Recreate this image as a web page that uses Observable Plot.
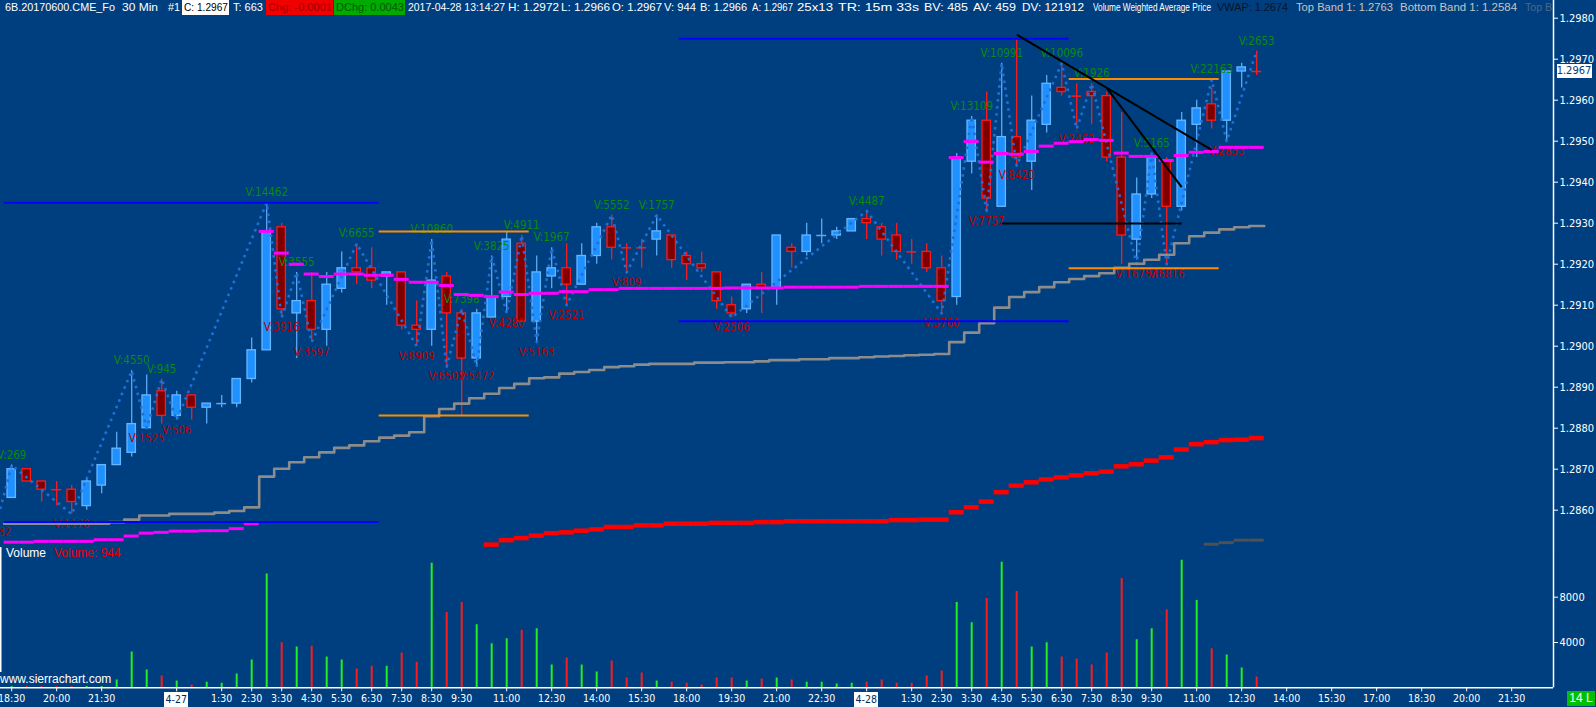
<!DOCTYPE html>
<html><head><meta charset="utf-8">
<script src="https://cdn.jsdelivr.net/npm/d3@7"></script>
<script src="https://cdn.jsdelivr.net/npm/@observablehq/plot@0.6"></script>
<style>
html,body{margin:0;padding:0;background:#003f7f;}
#wrap{position:relative;width:1596px;height:707px;overflow:hidden;background:#003f7f;font-family:"Liberation Sans",Arial,sans-serif;}
.layer{position:absolute;left:0;}
.abs{position:absolute;white-space:nowrap;}
#hdr{position:absolute;left:0;top:0;width:1553px;height:16px;overflow:hidden;}
.seg{position:absolute;top:0;height:15px;line-height:15px;font-size:10.5px;white-space:nowrap;}
.seg span{display:inline-block;transform-origin:0 50%;white-space:nowrap;}
</style></head>
<body><div id="wrap"></div>
<script>
// ---------------- DATA ----------------
const open = [1.2863,1.2870,1.2867,1.2865,1.2865,1.2861,1.2866,1.2871,1.2874,1.2880,
 1.2889,1.2883,1.2888,1.2885,1.2886,1.2886,1.2892,1.2899,1.2929,1.2908,
 1.2911,1.2904,1.2914,1.2919,1.2919,1.2917,1.2918,1.2905,1.2904,1.2917,
 1.2908,1.2897,1.2907,1.2912,1.2925,1.2906,1.2917,1.2919,1.2915,1.2922,
 1.2929,1.2924,1.2924,1.2926,1.2927,1.2922,1.2920,1.2918,1.2910,1.2909,
 1.2915,1.2914,1.2924,1.2923,1.2927,1.2927,1.2928,1.2931,1.2929,1.2927,
 1.2923,1.2923,1.2919,1.2912,1.2945,1.2955,1.2934,1.2951,1.2945,1.2954,
 1.2963,1.2961,1.2962,1.2961,1.2946,1.2926,1.2937,1.2945,1.2934,1.2954,
 1.2959,1.2955,1.2967,1.2967];
const high = [1.2871,1.2870,1.2867,1.2867,1.2866,1.2868,1.2871,1.2879,1.2894,1.2893,
 1.2892,1.2889,1.2888,1.2886,1.2888,1.2892,1.2902,1.2935,1.2930,1.2918,
 1.2918,1.2918,1.2923,1.2925,1.2924,1.2918,1.2918,1.2911,1.2926,1.2918,
 1.2909,1.2909,1.2922,1.2928,1.2927,1.2922,1.2924,1.2925,1.2925,1.2930,
 1.2932,1.2925,1.2926,1.2932,1.2927,1.2923,1.2923,1.2918,1.2912,1.2915,
 1.2918,1.2927,1.2925,1.2930,1.2931,1.2929,1.2931,1.2933,1.2930,1.2930,
 1.2926,1.2925,1.2922,1.2947,1.2956,1.2962,1.2969,1.2975,1.2961,1.2966,
 1.2969,1.2964,1.2964,1.2962,1.2957,1.2941,1.2947,1.2946,1.2957,1.2960,
 1.2963,1.2967,1.2969,1.2972];
const low = [1.2863,1.2867,1.2862,1.2861,1.2859,1.2860,1.2864,1.2871,1.2873,1.2880,
 1.2881,1.2882,1.2882,1.2881,1.2885,1.2885,1.2891,1.2899,1.2907,1.2897,
 1.2901,1.2900,1.2913,1.2915,1.2914,1.2910,1.2904,1.2900,1.2900,1.2895,
 1.2883,1.2895,1.2907,1.2908,1.2906,1.2901,1.2914,1.2910,1.2915,1.2920,
 1.2921,1.2918,1.2919,1.2922,1.2919,1.2916,1.2918,1.2909,1.2907,1.2908,
 1.2908,1.2910,1.2919,1.2922,1.2925,1.2926,1.2928,1.2926,1.2922,1.2921,
 1.2920,1.2918,1.2908,1.2910,1.2942,1.2933,1.2934,1.2944,1.2938,1.2952,
 1.2961,1.2953,1.2954,1.2945,1.2920,1.2921,1.2936,1.2920,1.2933,1.2946,
 1.2953,1.2950,1.2963,1.2966];
const close = [1.2870,1.2867,1.2865,1.2865,1.2862,1.2867,1.2871,1.2875,1.2881,1.2888,
 1.2883,1.2888,1.2885,1.2886,1.2886,1.2892,1.2899,1.2928,1.2909,1.2911,
 1.2904,1.2915,1.2919,1.2918,1.2916,1.2918,1.2905,1.2904,1.2916,1.2908,
 1.2897,1.2908,1.2912,1.2926,1.2906,1.2918,1.2919,1.2915,1.2922,1.2929,
 1.2924,1.2924,1.2924,1.2928,1.2921,1.2920,1.2919,1.2911,1.2908,1.2915,
 1.2914,1.2927,1.2923,1.2927,1.2927,1.2928,1.2931,1.2930,1.2926,1.2923,
 1.2923,1.2919,1.2911,1.2946,1.2955,1.2936,1.2951,1.2946,1.2955,1.2964,
 1.2962,1.2961,1.2961,1.2946,1.2927,1.2937,1.2946,1.2934,1.2955,1.2958,
 1.2955,1.2967,1.2968,1.2967];
// 1 = up bar (blue candle, green volume), 0 = down bar
const isUp = [1,0,0,0,0,1,1,1,1,1, 0,1,0,1,1,1,1,1,0,1, 0,1,1,0,0,1,0,0,1,0,
 0,1,1,1,0,1,1,0,1,1, 0,0,0,1,0,0,0,0,0,1, 0,1,0,1,1,1,1,0,0,0,
 0,0,0,1,1,0,1,0,1,1, 0,0,0,0,0,1,1,0,1,1, 0,1,1,0];
const volume = [260,310,220,180,280,330,300,680,3170,1570,
 1040,590,240,500,410,1210,2460,10040,3970,3610,
 3670,2730,2460,1660,1900,1900,3080,2250,10990,6640,
 7530,5570,3880,4330,5070,5210,2010,2640,2010,1390,
 2370,860,1300,590,500,410,240,860,860,590,
 770,860,680,500,500,330,410,500,680,410,
 410,1040,1480,7530,5750,7880,11080,8500,3610,3970,
 2730,2550,2010,3080,9660,4240,5210,6900,11260,7700,
 3440,2900,1750,944];
// session VWAP (magenta)
const vwap = [1.28522,1.28522,1.28524,1.28524,1.28524,1.28524,1.28528,1.28528,1.28537,1.28544,
 1.28546,1.28549,1.28549,1.28550,1.28550,1.28555,1.28567,1.29280,1.29227,1.29200,
 1.29176,1.29170,1.29176,1.29176,1.29173,1.29173,1.29163,1.29156,1.29156,1.29148,
 1.29126,1.29124,1.29121,1.29132,1.29126,1.29129,1.29129,1.29133,1.29133,1.29138,
 1.29138,1.29141,1.29141,1.29141,1.29141,1.29141,1.29141,1.29141,1.29142,1.29142,
 1.29142,1.29142,1.29144,1.29144,1.29144,1.29144,1.29144,1.29146,1.29146,1.29146,
 1.29146,1.29146,1.29146,1.29460,1.29499,1.29449,1.29470,1.29468,1.29475,1.29488,
 1.29495,1.29499,1.29504,1.29502,1.29471,1.29463,1.29463,1.29453,1.29465,1.29473,
 1.29475,1.29485,1.29485,1.29485];
// grey stepped line
const greyLine = [1.28567,1.28567,1.28567,1.28567,1.28567,1.28567,1.28567,1.28571,1.28577,1.28587,
 1.28587,1.28591,1.28591,1.28591,1.28594,1.28598,1.28607,1.28682,1.28701,1.28717,
 1.28729,1.28741,1.28752,1.28758,1.28768,1.28777,1.28782,1.28790,1.28829,1.28847,
 1.28860,1.28873,1.28884,1.28898,1.28908,1.28922,1.28924,1.28933,1.28937,1.28942,
 1.28949,1.28951,1.28955,1.28957,1.28957,1.28957,1.28960,1.28960,1.28961,1.28961,
 1.28963,1.28966,1.28966,1.28968,1.28968,1.28971,1.28971,1.28973,1.28975,1.28976,
 1.28978,1.28979,1.28981,1.29010,1.29033,1.29056,1.29094,1.29120,1.29132,1.29144,
 1.29156,1.29164,1.29171,1.29178,1.29191,1.29201,1.29211,1.29223,1.29251,1.29268,
 1.29277,1.29285,1.29290,1.29293];
// thick red line (starts at bar 32)
const redStart = 32;
const redLine = [1.28516,1.28527,1.28532,1.28538,1.28544,1.28546,1.28550,1.28553,
 1.28559,1.28559,1.28563,1.28563,1.28567,1.28567,1.28567,1.28569,1.28569,1.28569,
 1.28571,1.28571,1.28573,1.28573,1.28573,1.28573,1.28573,1.28573,1.28573,1.28576,
 1.28576,1.28577,1.28577,1.28595,1.28607,1.28621,1.28644,1.28660,1.28668,1.28675,
 1.28680,1.28685,1.28690,1.28694,1.28707,1.28712,1.28721,1.28729,1.28748,1.28761,
 1.28766,1.28771,1.28772,1.28776];
// dark grey line (starts at bar 80)
const darkStart = 80;
const darkLine = [1.28517,1.28521,1.28527,1.28527];
// zig-zag swing points
const zzBar   = [-1,0,4,8,9,10,11,17,18,19,20,23,27,28,29,30,31,32,33,34,35,36,37,40,41,43,48,57,62,64,65,66,67,70,71,72,75,76,77,80,81,83];
const zzPrice = [1.2857,1.2871,1.2859,1.2894,1.2880,1.2892,1.2882,1.2935,1.2907,1.2918,1.2901,1.2925,1.2900,1.2926,1.2895,1.2909,1.2895,1.2922,1.2908,1.2927,1.2901,1.2924,1.2910,1.2932,1.2918,1.2932,1.2907,1.2933,1.2908,1.2956,1.2933,1.2969,1.2944,1.2969,1.2953,1.2964,1.2920,1.2947,1.2920,1.2965,1.2950,1.2972];
const zzLabel = ["V:932","V:269","V:1170","V:4550","V:1525","V:945","V:506","V:14462","V:3916","V:3555","V:3597","V:6655","V:8909","V:10860","V:6502","V:7398","V:5472","V:3825","V:4280","V:4911","V:5163","V:1967","V:2521","V:5552","V:809","V:1757","V:2506","V:4487","V:3760","V:13109","V:7757","V:10991","V:8420","V:10096","V:2462","V:1926","V:16754","V:5165","V:6816","V:22163","V:2853","V:2653"];
const zzIsHigh = [0,1,0,1,0,1,0,1,0,1,0,1,0,1,0,1,0,1,0,1,0,1,0,1,0,1,0,1,0,1,0,1,0,1,0,1,0,1,0,1,0,1];
// drawings
const blueLevels   = [1.2935, 1.28571, 1.2975, 1.29061];
const blueFrom     = [-0.5, -0.5, 44.5, 44.5];
const blueTo       = [24.5, 24.5, 70.5, 70.5];
const orangeLevels = [1.2928, 1.28831, 1.29652, 1.29190];
const orangeFrom   = [24.5, 24.5, 70.5, 70.5];
const orangeTo     = [34.5, 34.5, 80.5, 80.5];
const blackFromBar = [67, 73, 66];
const blackFromPx  = [1.29760, 1.29630, 1.29299];
const blackToBar   = [80, 78, 78];
const blackToPx    = [1.29479, 1.29388, 1.29299];
// axes
const priceTicks = [1.2860,1.2870,1.2880,1.2890,1.2900,1.2910,1.2920,1.2930,1.2940,1.2950,1.2960,1.2970,1.2980];
const volTicks = [4000, 8000];
const tickIdx = [0,3,6,11,14,16,18,20,22,24,26,28,30,33,36,39,42,45,48,51,54,57,60,62,64,66,68,70,72,74,76,79,82,85,88,91,94,97,100];
const tickText = ["18:30","20:00","21:30","4-27","1:30","2:30","3:30","4:30","5:30","6:30","7:30","8:30","9:30","11:00","12:30","14:00","15:30","18:00","19:30","21:00","22:30","4-28","1:30","2:30","3:30","4:30","5:30","6:30","7:30","8:30","9:30","11:00","12:30","14:00","15:30","17:00","18:30","20:00","21:30"];
// header
const headerText = ["6B.20170600.CME_Fo","30 Min","#1","C: 1.2967","T: 663","Chg: -0.0001","DChg: 0.0043","2017-04-28 13:14:27","H: 1.2972","L: 1.2966","O: 1.2967","V: 944","B: 1.2966","A: 1.2967","25x13","TR: 15m 33s","BV: 485","AV: 459","DV: 121912","Volume Weighted Average Price","VWAP: 1.2674","Top Band 1: 1.2763","Bottom Band 1: 1.2584","Top B"];

// ---------------- LAYOUT ----------------
const W = 1596;
const axisX = 1553;                 // right price axis line
const priceH = 547, volTop = 547, volH = 160, volBase = 140.3;
const barX0 = 11.2, barDX = 15;
const xDomain = [-barX0 / barDX, (axisX - barX0) / barDX];
const pxPerPrice = 41000, yTop = 17.7, pRef = 1.2980;
const yDomain = [pRef - (priceH - yTop) / pxPerPrice, pRef + yTop / pxPerPrice];
const volDomainTop = volBase / 11.325 * 1000;
const headerX = [5,122,168,182,233,266,334,408,508,561,612,664,700,752,797,838,924,973,1022,1093,1217,1296,1400,1525];
const headerW = [110,36,12,47,30,67,71,97,51,49,50,32,47,41,36,81,44,43,62,118,71,97,117,27];
const headerColor = {3:"#000000",5:"#a00000",6:"#005800",20:"#0a1428",21:"#c4c4c4",22:"#c4c4c4",23:"#4f6788"};
const headerBg = {3:"#ffffff",5:"#f00000",6:"#00aa00"};

const BG = "#003f7f";
const upFill = "#1e90ff", upEdge = "#66b6ff", upWick = "#5aaaf5";
const dnFill = "#800000", dnEdge = "#ff1a1a", dnWick = "#ff1a1a";
const FONT = '"DejaVu Sans Condensed","DejaVu Sans",sans-serif';
const style = {background: "transparent", color: "white", fontFamily: FONT, fontSize: "11px", overflow: "visible"};

const candles = open.map((o, i) => ({i, o, h: high[i], l: low[i], c: close[i], up: isUp[i] === 1, v: volume[i]}));
const bodies = candles.filter(d => d.o !== d.c);
const dojis = candles.filter(d => d.o === d.c);
const zz = zzBar.map((b, k) => ({i: b, p: zzPrice[k], label: zzLabel[k], hi: zzIsHigh[k] === 1}));
const vwapData = vwap.map((v, i) => ({i, v}));
const greyPts = greyLine.flatMap((v, i) => [{x: i - 0.5, y: v}, {x: i + 0.5, y: v}]);
const redData = redLine.map((v, k) => ({i: redStart + k, v}));
const darkData = darkLine.map((v, k) => ({i: darkStart + k, v}));
const blueData = blueLevels.map((v, k) => ({v, a: blueFrom[k], b: blueTo[k]}));
const orangeData = orangeLevels.map((v, k) => ({v, a: orangeFrom[k], b: orangeTo[k]}));
const blackData = blackFromBar.map((b, k) => ({x1: b, y1: blackFromPx[k], x2: blackToBar[k], y2: blackToPx[k]}));
const tickMap = new Map(tickIdx.map((t, k) => [t, tickText[k]]));

const priceChart = Plot.plot({
  width: W, height: priceH, marginLeft: 0, marginRight: W - axisX, marginTop: 0, marginBottom: 0,
  x: {domain: xDomain, axis: null},
  y: {domain: yDomain},
  style,
  marks: [
    Plot.ruleX(candles, {x: "i", y1: "l", y2: "h", stroke: d => d.up ? upWick : dnWick, strokeWidth: 1.3, clip: true}),
    Plot.rect(bodies, {x1: d => d.i - 0.28, x2: d => d.i + 0.28, y1: d => Math.min(d.o, d.c), y2: d => Math.max(d.o, d.c),
      fill: d => d.up ? upFill : dnFill, stroke: d => d.up ? upEdge : dnEdge, strokeWidth: 1.3, clip: true}),
    Plot.ruleY(dojis, {x1: d => d.i - 0.33, x2: d => d.i + 0.33, y: "o", stroke: d => d.up ? upWick : dnWick, strokeWidth: 1.5, clip: true}),
    Plot.text(zz.filter(d => d.hi), {x: "i", y: "p", text: "label", dy: -10, fill: "#0b8a0b", fontSize: 11.5, clip: true}),
    Plot.text(zz.filter(d => !d.hi), {x: "i", y: "p", text: "label", dy: 10, fill: "#b80000", fontSize: 11.5, clip: true}),
    Plot.line(zz, {x: "i", y: "p", stroke: "#1f6fd6", strokeWidth: 2.6, strokeDasharray: "2.6,4.4", strokeLinecap: "butt", clip: true}),
    Plot.ruleY(vwapData, {x1: d => d.i - 0.5, x2: d => d.i + 0.5, y: "v", stroke: "#ff00ff", strokeWidth: 3, clip: true}),
    Plot.line(greyPts, {x: "x", y: "y", stroke: "#8c8c8c", strokeWidth: 2.6, clip: true}),
    Plot.ruleY(redData, {x1: d => d.i - 0.5, x2: d => d.i + 0.5, y: "v", stroke: "#ff0000", strokeWidth: 4.5, clip: true}),
    Plot.ruleY(darkData, {x1: d => d.i - 0.5, x2: d => d.i + 0.5, y: "v", stroke: "#505050", strokeWidth: 3, clip: true}),
    Plot.ruleY(blueData, {x1: "a", x2: "b", y: "v", stroke: "#0000ff", strokeWidth: 2, clip: true}),
    Plot.ruleY(orangeData, {x1: "a", x2: "b", y: "v", stroke: "#ff8c00", strokeWidth: 2, clip: true}),
    Plot.link(blackData, {x1: "x1", y1: "y1", x2: "x2", y2: "y2", stroke: "#000000", strokeWidth: 2, clip: true}),
    Plot.ruleX([xDomain[1]], {stroke: "white", strokeWidth: 1.5}),
    Plot.axisY(priceTicks, {anchor: "right", tickSize: 4, tickPadding: 2, tickFormat: d => d.toFixed(4), fontSize: 11, label: null})
  ]
});

const volChart = Plot.plot({
  width: W, height: volH, marginLeft: 0, marginRight: W - axisX, marginTop: 0, marginBottom: volH - volBase,
  x: {domain: xDomain},
  y: {domain: [0, volDomainTop]},
  style,
  marks: [
    Plot.ruleX(candles, {x: "i", y1: 0, y2: "v", stroke: d => d.up ? "#22ee22" : "#ff1a1a", strokeWidth: 2, clip: true}),
    Plot.ruleY([0], {stroke: "white", strokeWidth: 1.5}),
    Plot.ruleX([xDomain[1]], {stroke: "white", strokeWidth: 1.5}),
    Plot.ruleX([xDomain[0]], {y1: 1350, y2: volDomainTop, stroke: "white", strokeWidth: 2}),
    Plot.axisY(volTicks, {anchor: "right", tickSize: 4, tickPadding: 2, tickFormat: d => String(d), fontSize: 11, label: null}),
    Plot.axisX(tickIdx, {anchor: "bottom", tickSize: 4, tickPadding: 3, fontSize: 10.5, label: null,
      tickFormat: d => { const t = tickMap.get(d); return t.includes("-") ? "" : t; }})
  ]
});

// ---------------- ASSEMBLE ----------------
const wrap = document.getElementById("wrap");
const pDiv = document.createElement("div"); pDiv.className = "layer"; pDiv.style.top = "0px"; pDiv.appendChild(priceChart); wrap.appendChild(pDiv);
const vDiv = document.createElement("div"); vDiv.className = "layer"; vDiv.style.top = volTop + "px"; vDiv.appendChild(volChart); wrap.appendChild(vDiv);

function addBox(text, left, top, w, h, bg, color, size, family) {
  const d = document.createElement("div");
  d.className = "abs";
  Object.assign(d.style, {left: left + "px", top: top + "px", width: w == null ? "auto" : w + "px", height: h + "px",
    lineHeight: h + "px", background: bg || "transparent", color, fontSize: size + "px", fontFamily: family || FONT,
    textAlign: w == null ? "left" : "center"});
  d.textContent = text;
  wrap.appendChild(d);
  return d;
}
// current price marker
const yNow = priceChart.scale("y").apply(close[close.length - 1]);
addBox(close[close.length - 1].toFixed(4), 1556.5, yNow - 7, 35, 14, "#ffffff", "#0a3a78", 11);
// date boxes on the time axis
const xs = volChart.scale("x");
tickIdx.forEach((t, k) => {
  if (tickText[k].includes("-")) addBox(tickText[k], xs.apply(t) - 12, 692, 24, 15, "#ffffff", "#002a5c", 10.5);
});
// volume pane titles
const LIB = '"Liberation Sans",Arial,sans-serif';
addBox("Volume", 6, 546, null, 14, null, "#ffffff", 12, LIB);
addBox("Volume: " + volume[volume.length - 1], 54, 546, null, 14, null, "#e00000", 12, LIB);
addBox("www.sierrachart.com", 0, 672, null, 14, BG, "#ffffff", 12, LIB).style.paddingRight = "2px";
addBox("14 L", 1567, 691, 28, 15, "#00c000", "#ffffff", 12, LIB);

// header line: each segment squeezed/stretched to the width it takes in the reference
const hdr = document.createElement("div"); hdr.id = "hdr"; wrap.appendChild(hdr);
headerText.forEach((text, k) => {
  const box = document.createElement("div");
  box.className = "seg";
  box.style.left = headerX[k] + "px";
  box.style.width = headerW[k] + "px";
  const bg = headerBg[k];
  if (bg) box.style.background = bg;
  const sp = document.createElement("span");
  sp.textContent = text;
  sp.style.color = headerColor[k] || "#ffffff";
  box.appendChild(sp);
  hdr.appendChild(box);
  const nat = sp.getBoundingClientRect().width;
  const target = bg ? headerW[k] - 3 : headerW[k];
  sp.style.transform = `scaleX(${target / nat})`;
  if (bg) sp.style.marginLeft = "1.5px";
});
</script></body></html>
